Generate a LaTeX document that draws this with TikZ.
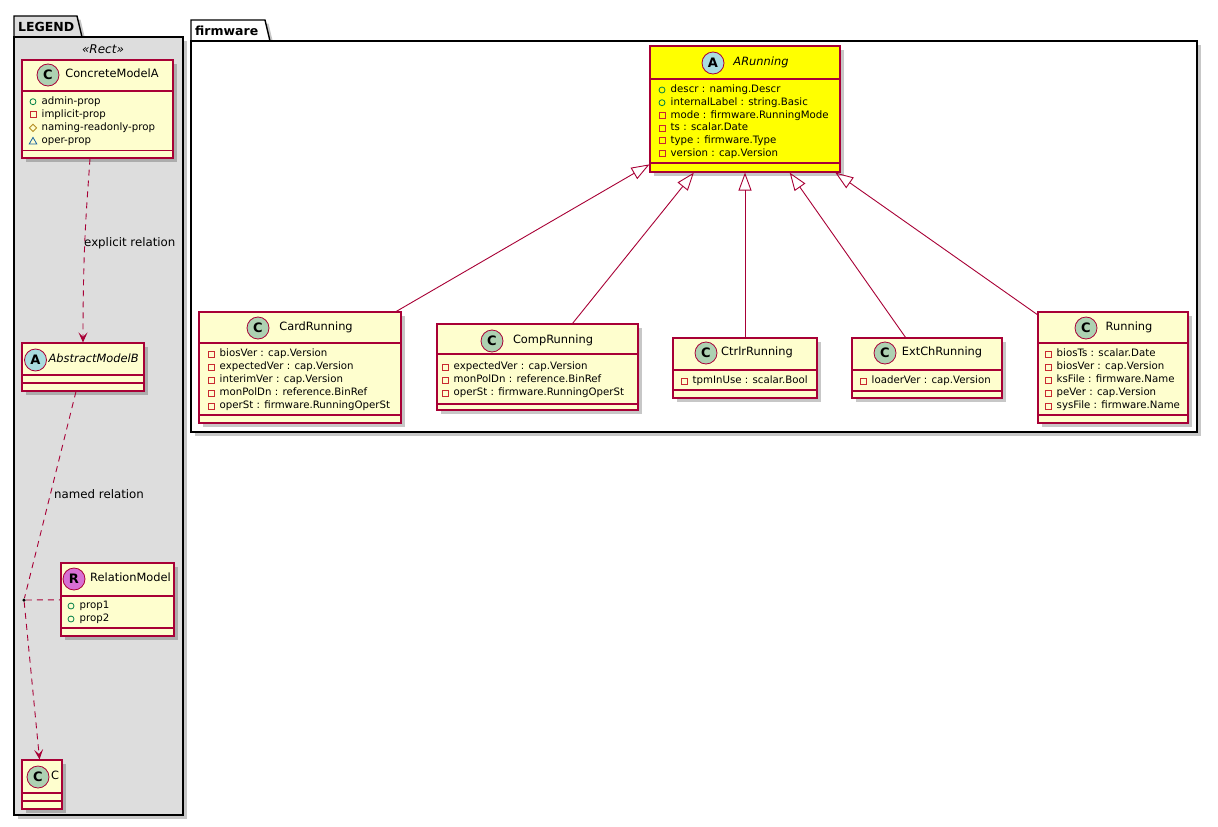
\documentclass[tikz,border=0pt]{standalone}
\usepackage{fontspec}
\setmainfont{DejaVu Sans}
\usetikzlibrary{shadows,arrows.meta,calc}
\definecolor{bord}{HTML}{A80036}
\definecolor{clsfill}{HTML}{FEFECE}
\definecolor{yel}{HTML}{FFFF00}
\definecolor{cicon}{HTML}{ADD1B2}
\definecolor{aicon}{HTML}{A9DCDF}
\definecolor{ricon}{HTML}{D86FD4}
\definecolor{pubc}{HTML}{038048}
\definecolor{privc}{HTML}{C82930}
\definecolor{protc}{HTML}{B38D22}
\definecolor{pkgc}{HTML}{1963A0}
\definecolor{legfill}{HTML}{DDDDDD}
\tikzset{
  shad/.style={drop shadow={shadow xshift=3.5pt, shadow yshift=-3.5pt, opacity=0.22, fill=black}},
  cls/.style={draw=bord, fill=clsfill, line width=1.1pt, inner sep=0pt, shad},
  sepline/.style={draw=bord, line width=1.1pt},
  icon/.style={circle, draw=bord, line width=0.8pt, minimum size=22, inner sep=0pt, font=\fontsize{13}{13}\selectfont\bfseries},
  cname/.style={inner sep=0pt, font=\fontsize{11.4}{13}\selectfont, text height=8.3pt, text depth=2.4pt},
  attr/.style={anchor=west, inner sep=0pt, font=\fontsize{10.2}{12}\selectfont, text height=7.5pt, text depth=2.1pt},
  pkgbox/.style={draw=black, line width=1.4pt, shad},
  pkglabel/.style={anchor=west, inner sep=0pt, font=\fontsize{12.5}{14}\selectfont\bfseries},
  dep/.style={draw=bord, line width=0.9pt, dash pattern=on 6pt off 5pt},
  deparrow/.style={dep, -{Stealth[length=10pt, width=9pt, inset=4.5pt]}},
  inh/.style={draw=bord, line width=0.9pt, -{Triangle[open, length=18pt, width=13pt, line width=0.9pt]}},
  edgelabel/.style={anchor=west, inner sep=0pt, font=\fontsize{11.8}{14}\selectfont},
  pub/.pic={\draw[draw=pubc, line width=0.8pt] (0,0) circle[radius=3pt];},
  priv/.pic={\draw[draw=privc, line width=0.8pt] (-3,-3) rectangle (3,3);},
  prot/.pic={\draw[draw=protc, line width=0.8pt] (-3.6,0)--(0,-3.6)--(3.6,0)--(0,3.6)--cycle;},
  pkgv/.pic={\draw[draw=pkgc, line width=0.8pt] (-3.8,3)--(3.8,3)--(0,-3.6)--cycle;},
}
\newcommand\attrlist[5]{%
  \foreach[count=\i] \v/\t in {#5}{%
    \pic at (#2,{#3+(\i-1)*#4}) {\v};
    \node[attr] (#1a\i) at ({#2+8.5},{#3+(\i-1)*#4}) {\t};
  }}
\begin{document}
\begin{tikzpicture}[x=1pt,y=-1pt]
\useasboundingbox (0,0) rectangle (1218,827);

% ---------- packages ----------
\draw[pkgbox, fill=legfill] (14,37) -- (14,16) -- (77,16) -- (82,37) -- cycle;
\node[pkgbox, fill=legfill, minimum width=169, minimum height=778, inner sep=0pt] (legend) at (98.5,426) {};
\node[pkglabel] (legendlbl) at (18,26.5) {LEGEND};
\node[inner sep=0pt, font=\fontsize{12}{14}\selectfont\itshape] (stereo) at (103,49) {«Rect»};

\draw[pkgbox, fill=white] (191,41) -- (191,20) -- (265,20) -- (270,41) -- cycle;
\node[pkgbox, fill=white, minimum width=1006, minimum height=391, inner sep=0pt] (fw) at (694,236.5) {};
\node[pkglabel] (fwlbl) at (195,31) {firmware};

% ---------- legend classes ----------
% ConcreteModelA
\node[cls, minimum width=151, minimum height=98] (cma) at (97.5,109) {};
\draw[sepline] (cma.west |- 0,91) -- (cma.east |- 0,91);
\draw[sepline] (cma.west |- 0,150.5) -- (cma.east |- 0,150.5);
\node[icon, fill=cicon] (cmai) at (48,75) {C};
\node[cname] (cman) at (112,75) {ConcreteModelA};
\attrlist{cma}{33}{101.7}{13.1}{pub/admin-prop, priv/implicit-prop, prot/naming-readonly-prop, pkgv/oper-prop}

% AbstractModelB
\node[cls, minimum width=122, minimum height=48] (amb) at (83,367) {};
\draw[sepline] (amb.west |- 0,375) -- (amb.east |- 0,375);
\draw[sepline] (amb.west |- 0,383) -- (amb.east |- 0,383);
\node[icon, fill=aicon] (ambi) at (35.5,360) {A};
\node[cname, anchor=west, font=\fontsize{11.4}{13}\selectfont\itshape] (ambn) at (48.5,360) {AbstractModelB};

% RelationModel
\node[cls, minimum width=113, minimum height=73] (rel) at (117.5,599.5) {};
\draw[sepline] (rel.west |- 0,596) -- (rel.east |- 0,596);
\draw[sepline] (rel.west |- 0,628) -- (rel.east |- 0,628);
\node[icon, fill=ricon] (reli) at (74,579) {R};
\node[cname, anchor=west] (reln) at (90,579) {RelationModel};
\attrlist{rel}{71}{606}{13}{pub/prop1, pub/prop2}

% C
\node[cls, minimum width=40, minimum height=49] (cc) at (42,784.5) {};
\draw[sepline] (cc.west |- 0,793) -- (cc.east |- 0,793);
\draw[sepline] (cc.west |- 0,801) -- (cc.east |- 0,801);
\node[icon, fill=cicon] (cci) at (38,777) {C};
\node[cname, anchor=west] (ccn) at (51,777) {C};

% legend relations
\draw[deparrow] ($(cma.south)+(-7.5,0)$) .. controls +(-3,45) and +(0,-100) .. (amb.north);
\node[edgelabel] (lbl1) at (84,243) {explicit relation};
\node[circle, fill=black, inner sep=0pt, minimum size=3.5] (dot) at (24,600) {};
\draw[dep] ($(amb.south)+(-7,0)$) -- (dot);
\draw[deparrow] (dot) -- (cc);
\draw[dep] (dot) -- (rel);
\node[edgelabel] (lbl2) at (54,494) {named relation};

% ---------- firmware classes ----------
% ARunning
\node[cls, fill=yel, minimum width=190, minimum height=126] (arun) at (745,109) {};
\draw[sepline] (arun.west |- 0,79) -- (arun.east |- 0,79);
\draw[sepline] (arun.west |- 0,163) -- (arun.east |- 0,163);
\node[icon, fill=aicon] (aruni) at (713,63) {A};
\node[cname, font=\fontsize{11.4}{13}\selectfont\itshape] (arunn) at (761,63) {ARunning};
\attrlist{arun}{662}{90}{12.7}{pub/descr : naming.Descr, pub/internalLabel : string.Basic, priv/mode : firmware.RunningMode, priv/ts : scalar.Date, priv/type : firmware.Type, priv/version : cap.Version}

% CardRunning
\node[cls, minimum width=202, minimum height=111] (card) at (300,367.5) {};
\draw[sepline] (card.west |- 0,343) -- (card.east |- 0,343);
\draw[sepline] (card.west |- 0,415) -- (card.east |- 0,415);
\node[icon, fill=cicon] (cardi) at (258,328) {C};
\node[cname] (cardn) at (316,328) {CardRunning};
\attrlist{card}{211}{354}{13}{priv/biosVer : cap.Version, priv/expectedVer : cap.Version, priv/interimVer : cap.Version, priv/monPolDn : reference.BinRef, priv/operSt : firmware.RunningOperSt}

% CompRunning
\node[cls, minimum width=201, minimum height=86] (comp) at (537.5,367) {};
\draw[sepline] (comp.west |- 0,354) -- (comp.east |- 0,354);
\draw[sepline] (comp.west |- 0,404) -- (comp.east |- 0,404);
\node[icon, fill=cicon] (compi) at (492,341) {C};
\node[cname] (compn) at (553,341) {CompRunning};
\attrlist{comp}{445}{367}{13}{priv/expectedVer : cap.Version, priv/monPolDn : reference.BinRef, priv/operSt : firmware.RunningOperSt}

% CtrlrRunning
\node[cls, minimum width=144, minimum height=60] (ctrlr) at (745,368) {};
\draw[sepline] (ctrlr.west |- 0,370) -- (ctrlr.east |- 0,370);
\draw[sepline] (ctrlr.west |- 0,390) -- (ctrlr.east |- 0,390);
\node[icon, fill=cicon] (ctrlri) at (706,353) {C};
\node[cname] (ctrlrn) at (757,353) {CtrlrRunning};
\attrlist{ctrlr}{684}{381}{13}{priv/tpmInUse : scalar.Bool}

% ExtChRunning
\node[cls, minimum width=150, minimum height=60] (extch) at (927,368) {};
\draw[sepline] (extch.west |- 0,370) -- (extch.east |- 0,370);
\draw[sepline] (extch.west |- 0,391) -- (extch.east |- 0,391);
\node[icon, fill=cicon] (extchi) at (885,353) {C};
\node[cname] (extchn) at (942,353) {ExtChRunning};
\attrlist{extch}{863}{381}{13}{priv/loaderVer : cap.Version}

% Running
\node[cls, minimum width=150, minimum height=111] (running) at (1113,367.5) {};
\draw[sepline] (running.west |- 0,343) -- (running.east |- 0,343);
\draw[sepline] (running.west |- 0,415) -- (running.east |- 0,415);
\node[icon, fill=cicon] (runningi) at (1086,328) {C};
\node[cname] (runningn) at (1129,328) {Running};
\attrlist{running}{1048}{354}{13}{priv/biosTs : scalar.Date, priv/biosVer : cap.Version, priv/ksFile : firmware.Name, priv/peVer : cap.Version, priv/sysFile : firmware.Name}

% inheritance
\draw[inh] (card) -- (arun);
\draw[inh] (comp) -- (arun);
\draw[inh] (ctrlr) -- (arun);
\draw[inh] (extch) -- (arun);
\draw[inh] (running) -- (arun);
\end{tikzpicture}
\end{document}
